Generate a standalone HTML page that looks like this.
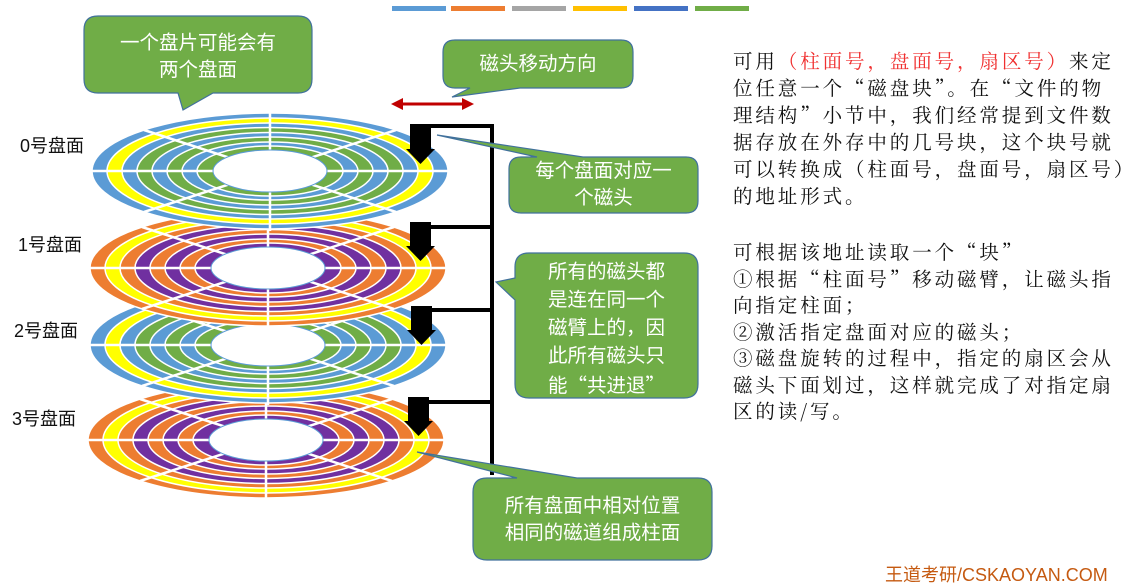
<!DOCTYPE html>
<html><head><meta charset="utf-8"><style>
body{margin:0;width:1126px;height:568px;background:#fff;overflow:hidden;position:relative;font-family:"Liberation Sans","Noto Sans CJK SC",sans-serif}
.t{position:absolute;left:733px;font-size:19.5px;color:#111;white-space:nowrap;letter-spacing:2.9px;line-height:27px;font-family:"Noto Serif CJK SC","Liberation Serif",serif}
.lbl{position:absolute;font-size:18px;color:#111;white-space:nowrap}
.ct{position:absolute;color:#fff;font-size:19.5px;line-height:27px;text-align:center;white-space:nowrap}
.q{font-family:"Noto Sans CJK SC",sans-serif}
</style></head><body>
<svg width="1126" height="568" style="position:absolute;left:0;top:0">
<defs>
<g id="dA">
<ellipse rx="178" ry="58" fill="#5b9bd5" stroke="#fff" stroke-width="1.5"/>
<ellipse rx="163" ry="53" fill="#ffff00" stroke="#fff" stroke-width="1.5"/>
<ellipse rx="148" ry="48" fill="#5b9bd5" stroke="#fff" stroke-width="1.5"/>
<ellipse rx="133" ry="43.5" fill="#70ad47" stroke="#fff" stroke-width="1.5"/>
<ellipse rx="118" ry="38.5" fill="#5b9bd5" stroke="#fff" stroke-width="1.5"/>
<ellipse rx="103" ry="34" fill="#70ad47" stroke="#fff" stroke-width="1.5"/>
<ellipse rx="88" ry="29" fill="#5b9bd5" stroke="#fff" stroke-width="1.5"/>
<ellipse rx="73" ry="25" fill="#70ad47" stroke="#fff" stroke-width="1.5"/>
<path d="M-180 0H180M0 -60V60M-126 -41L126 41M-126 41L126 -41" stroke="#fff" stroke-width="2.5"/>
<ellipse rx="57" ry="21" fill="#fff" stroke="#5b9bd5" stroke-width="1"/>
</g>
<g id="dB">
<ellipse rx="178" ry="58" fill="#ed7d31" stroke="#fff" stroke-width="1.5"/>
<ellipse rx="163" ry="53" fill="#ffff00" stroke="#fff" stroke-width="1.5"/>
<ellipse rx="148" ry="48" fill="#ed7d31" stroke="#fff" stroke-width="1.5"/>
<ellipse rx="133" ry="43.5" fill="#7030a0" stroke="#fff" stroke-width="1.5"/>
<ellipse rx="118" ry="38.5" fill="#ed7d31" stroke="#fff" stroke-width="1.5"/>
<ellipse rx="103" ry="34" fill="#7030a0" stroke="#fff" stroke-width="1.5"/>
<ellipse rx="88" ry="29" fill="#ed7d31" stroke="#fff" stroke-width="1.5"/>
<ellipse rx="73" ry="25" fill="#7030a0" stroke="#fff" stroke-width="1.5"/>
<path d="M-180 0H180M0 -60V60M-126 -41L126 41M-126 41L126 -41" stroke="#fff" stroke-width="2.5"/>
<ellipse rx="57" ry="21" fill="#fff" stroke="#5b9bd5" stroke-width="1"/>
</g>
<g id="hd"><rect x="0" y="0" width="21" height="25" fill="#000"/><polygon points="-4,24 25,24 10.5,39" fill="#000"/></g>
</defs>
<rect x="392" y="6" width="54" height="5" fill="#5b9bd5"/>
<rect x="451" y="6" width="54" height="5" fill="#ed7d31"/>
<rect x="512" y="6" width="54" height="5" fill="#a5a5a5"/>
<rect x="573" y="6" width="54" height="5" fill="#ffc000"/>
<rect x="634" y="6" width="54" height="5" fill="#4472c4"/>
<rect x="695" y="6" width="54" height="5" fill="#70ad47"/>
<use href="#dB" x="266" y="440"/>
<use href="#dA" x="268" y="345"/>
<use href="#dB" x="268" y="268"/>
<use href="#dA" x="270" y="171"/>
<path d="M410 126H492V475M420 227H492M420 310H492M420 402H492" stroke="#000" stroke-width="4" fill="none"/>
<use href="#hd" x="410" y="125"/>
<use href="#hd" x="410" y="222"/>
<use href="#hd" x="411" y="306"/>
<use href="#hd" x="408" y="397"/>
<line x1="400" y1="104" x2="464" y2="104" stroke="#c00000" stroke-width="3"/>
<polygon points="391,104 403,98 403,110" fill="#c00000"/>
<polygon points="474,104 462,98 462,110" fill="#c00000"/>
<g fill="#70ad47" stroke="#41719c" stroke-width="1.2">
<path d="M98 16H298Q312 16 312 30V79Q312 93 298 93H213L183 110L178 93H98Q84 93 84 79V30Q84 16 98 16Z"/>
<path d="M455 40H621Q633 40 633 52V76Q633 88 621 88H520L452 97L470 88H455Q443 88 443 76V52Q443 40 455 40Z"/>
<path d="M521 157H537L437 135L583 157H686Q698 157 698 169V201Q698 213 686 213H521Q509 213 509 201V169Q509 157 521 157Z"/>
<path d="M529 253H684Q698 253 698 267V384Q698 398 684 398H529Q515 398 515 384V300L496 282L515 278V267Q515 253 529 253Z"/>
<path d="M487 478H517L417 452L577 478H698Q712 478 712 492V546Q712 560 698 560H487Q473 560 473 546V492Q473 478 487 478Z"/>
</g>
</svg>
<div class="ct" style="left:84px;top:30px;width:228px">一个盘片可能会有<br>两个盘面</div>
<div class="ct" style="left:443px;top:51px;width:190px">磁头移动方向</div>
<div class="ct" style="left:509px;top:158px;width:189px">每个盘面对应一<br>个磁头</div>
<div class="ct" style="left:515px;top:258px;width:183px;line-height:28px">所有的磁头都<br>是连在同一个<br>磁臂上的，因<br>此所有磁头只<br>能<span class="q">“</span>共进退<span class="q">”</span></div>
<div class="ct" style="left:473px;top:493px;width:239px">所有盘面中相对位置<br>相同的磁道组成柱面</div>
<div class="lbl" style="left:20px;top:132px">0号盘面</div>
<div class="lbl" style="left:18px;top:231px">1号盘面</div>
<div class="lbl" style="left:14px;top:317px">2号盘面</div>
<div class="lbl" style="left:12px;top:405px">3号盘面</div>
<div class="t" style="top:47px">可用<span style="color:#f03030">（柱面号，盘面号，扇区号）</span>来定<br>位任意一个“磁盘块”。在“文件的物<br>理结构”小节中，我们经常提到文件数<br>据存放在外存中的几号块，这个块号就<br>可以转换成（柱面号，盘面号，扇区号）<br>的地址形式。</div>
<div class="t" style="top:238px;line-height:26.5px">可根据该地址读取一个“块”<br>①根据“柱面号”移动磁臂，让磁头指<br>向指定柱面；<br>②激活指定盘面对应的磁头；<br>③磁盘旋转的过程中，指定的扇区会从<br>磁头下面划过，这样就完成了对指定扇<br>区的读/写。</div>
<div style="position:absolute;left:885px;top:561px;color:#c55a11;font-size:18px;white-space:nowrap">王道考研/CSKAOYAN.COM</div>
</body></html>
